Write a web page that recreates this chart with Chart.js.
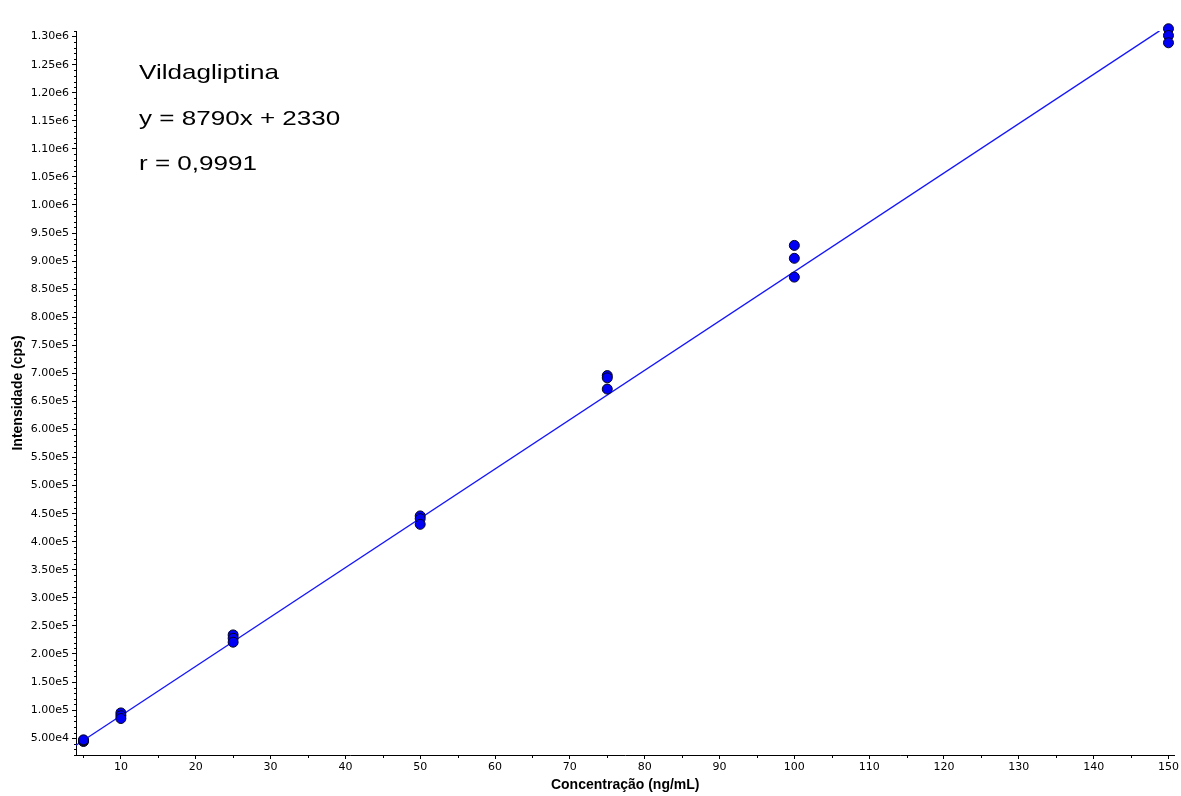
<!DOCTYPE html>
<html>
<head>
<meta charset="utf-8">
<script src="https://cdn.jsdelivr.net/npm/chart.js@4.4.1/dist/chart.umd.min.js"></script>
<style>
  html, body { margin: 0; padding: 0; background: #ffffff; }
  #wrap { position: relative; width: 1181px; height: 796px; }
</style>
</head>
<body>
<div id="wrap"><canvas id="c" width="1181" height="796"></canvas></div>
<script>
// ---- data ----
const concentrations = [5, 5, 5, 10, 10, 10, 25, 25, 25, 50, 50, 50, 75, 75, 75, 100, 100, 100, 150, 150, 150];
const intensities = [44000, 45500, 47000, 95000, 90000, 85000, 234000, 228000, 221000, 446000, 441000, 431000, 696000, 692000, 672000, 928000, 905000, 871500, 1314000, 1302000, 1289000];
const fitX = [4, 148.8];
const fitY = [37490, 1310290];
const annotationLines = ['Vildagliptina', 'y = 8790x + 2330', 'r = 0,9991'];
const xTitle = 'Concentração (ng/mL)';
const yTitle = 'Intensidade (cps)';
const xRange = [4, 150.8];
const yRange = [20000, 1310000];
const xTickValues = [10, 20, 30, 40, 50, 60, 70, 80, 90, 100, 110, 120, 130, 140, 150];
const xMinorValues = [5, 15, 25, 35, 45, 55, 65, 75, 85, 95, 105, 115, 125, 135, 145];
const yTickValues = [50000, 100000, 150000, 200000, 250000, 300000, 350000, 400000, 450000, 500000,
  550000, 600000, 650000, 700000, 750000, 800000, 850000, 900000, 950000, 1000000,
  1050000, 1100000, 1150000, 1200000, 1250000, 1300000];
const yMinorStep = 10000;

const scatterPts = concentrations.map((x, i) => ({ x: x, y: intensities[i] }));
const fitPts = fitX.map((x, i) => ({ x: x, y: fitY[i] }));

const minorTicks = {
  id: 'minorTicks',
  afterDraw(chart) {
    const ctx = chart.ctx;
    const xs = chart.scales.x, ys = chart.scales.y;
    ctx.save();
    ctx.strokeStyle = '#000';
    ctx.lineWidth = 1;
    ctx.beginPath();
    for (let v = Math.ceil(yRange[0] / yMinorStep) * yMinorStep; v <= yRange[1]; v += yMinorStep) {
      if (yTickValues.includes(v)) continue;
      const p = Math.round(ys.getPixelForValue(v)) + 0.5;
      ctx.moveTo(xs.left - 2, p); ctx.lineTo(xs.left, p);
    }
    xMinorValues.forEach(v => {
      const p = Math.round(xs.getPixelForValue(v)) + 0.5;
      ctx.moveTo(p, ys.bottom); ctx.lineTo(p, ys.bottom + 3);
    });
    ctx.stroke();
    // annotation text
    ctx.fillStyle = '#000';
    ctx.font = '21px "Liberation Sans", Arial, sans-serif';
    ctx.textBaseline = 'alphabetic';
    const baselines = [79, 125, 170];
    annotationLines.forEach((t, i) => {
      ctx.save();
      ctx.translate(139, baselines[i]);
      ctx.scale(1.24, 1);
      ctx.fillText(t, 0, 0);
      ctx.restore();
    });
    ctx.restore();
  }
};

const tickFont = { family: '"DejaVu Sans", sans-serif', size: 11 };

new Chart(document.getElementById('c'), {
  type: 'scatter',
  data: {
    datasets: [
      {
        type: 'line',
        data: fitPts,
        borderColor: 'rgb(20,20,250)',
        borderWidth: 1.3,
        pointRadius: 0,
        fill: false,
        order: 2
      },
      {
        data: scatterPts,
        backgroundColor: 'rgb(0,0,245)',
        borderColor: 'rgb(5,5,30)',
        borderWidth: 1,
        pointRadius: 5,
        clip: false,
        order: 1
      }
    ]
  },
  options: {
    responsive: false,
    animation: false,
    devicePixelRatio: 1,
    layout: { padding: { top: 31, right: 5, left: 0, bottom: 0 } },
    plugins: { legend: { display: false }, tooltip: { enabled: false } },
    scales: {
      x: {
        type: 'linear',
        min: xRange[0], max: xRange[1],
        afterBuildTicks(s) { s.ticks = xTickValues.map(v => ({ value: v })); },
        afterFit(s) { s.height = 41; },
        border: { display: true, color: '#000', width: 1 },
        grid: { display: true, drawOnChartArea: false, drawTicks: true, tickLength: 4, color: '#000' },
        ticks: {
          autoSkip: false, maxRotation: 0,
          color: '#000', font: tickFont, padding: 2
        },
        title: {
          display: true, text: xTitle, color: '#000',
          font: { family: '"Liberation Sans", Arial, sans-serif', size: 14, weight: 'bold' },
          padding: { top: 4, bottom: 2 }
        }
      },
      y: {
        type: 'linear',
        min: yRange[0], max: yRange[1],
        afterBuildTicks(s) { s.ticks = yTickValues.map(v => ({ value: v })); },
        afterFit(s) { s.width = 76; },
        border: { display: true, color: '#000', width: 1 },
        grid: { display: true, drawOnChartArea: false, drawTicks: true, tickLength: 4, color: '#000' },
        ticks: {
          autoSkip: false,
          color: '#000', font: tickFont, padding: 3,
          callback: (v) => Number(v).toExponential(2).replace('e+', 'e')
        },
        title: {
          display: true, text: yTitle, color: '#000',
          font: { family: '"Liberation Sans", Arial, sans-serif', size: 14, weight: 'bold' },
          padding: { top: 10, bottom: 4 }
        }
      }
    }
  },
  plugins: [minorTicks]
});
</script>
</body>
</html>
